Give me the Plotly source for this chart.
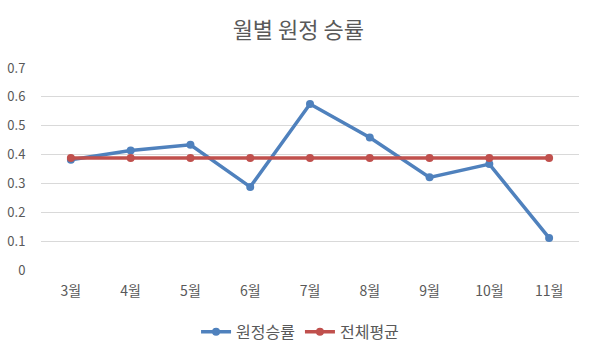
import plotly.graph_objects as go

months = ["3월", "4월", "5월", "6월", "7월", "8월", "9월", "10월", "11월"]
away_rate = [0.382, 0.414, 0.434, 0.288, 0.575, 0.459, 0.321, 0.367, 0.111]
overall_avg = [0.388] * 9
y_ticks = [0, 0.1, 0.2, 0.3, 0.4, 0.5, 0.6, 0.7]
y_labels = ["0", "0.1", "0.2", "0.3", "0.4", "0.5", "0.6", "0.7"]

font = "Noto Sans CJK KR"
fig = go.Figure()
fig.add_trace(go.Scatter(x=months, y=away_rate, name="원정승률", mode="lines+markers",
                         line=dict(color="#4F81BD", width=3.5),
                         marker=dict(color="#4F81BD", size=8)))
fig.add_trace(go.Scatter(x=months, y=overall_avg, name="전체평균", mode="lines+markers",
                         line=dict(color="#C0504D", width=3.5),
                         marker=dict(color="#C0504D", size=8)))

fig.update_layout(
    width=593, height=353,
    margin=dict(l=41, r=14, t=68, b=83, autoexpand=False),
    paper_bgcolor="white", plot_bgcolor="white",
    font=dict(family=font, color="#595959", size=13),
    title=dict(text="월별 원정 승률", x=0.503, xanchor="center", yref="container",
               y=0.915, yanchor="middle",
               font=dict(family=font, size=22, color="#595959")),
    showlegend=True,
    legend=dict(orientation="h", xref="container", x=0.506, xanchor="center",
                yref="container", y=0.06, yanchor="middle",
                font=dict(family=font, size=16, color="#595959")),
    xaxis=dict(range=[-0.5, 8.5], showgrid=False, showline=False, zeroline=False,
               ticks="outside", ticklen=8, tickcolor="rgba(0,0,0,0)",
               tickfont=dict(family=font, size=14, color="#595959")),
    yaxis=dict(range=[0, 0.7], tickvals=y_ticks, ticktext=y_labels,
               showgrid=True, gridcolor="#D9D9D9", gridwidth=1,
               zeroline=False, showline=False,
               ticks="outside", ticklen=12, tickcolor="rgba(0,0,0,0)",
               tickfont=dict(family=font, size=13, color="#595959")),
)
fig.write_html("out.html")
